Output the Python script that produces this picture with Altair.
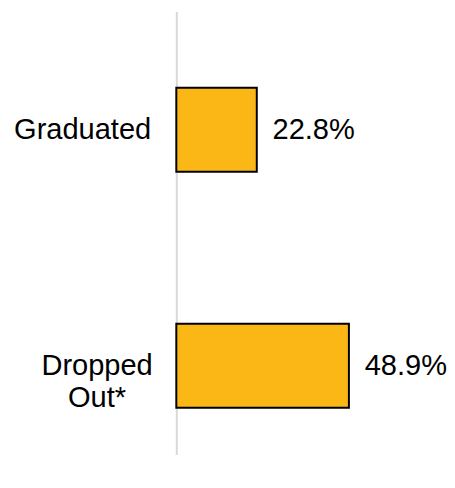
import altair as alt
import pandas as pd

categories = ["Graduated", "Dropped Out*"]
values = [22.8, 48.9]

df = pd.DataFrame({"category": categories, "value": values})

y_enc = alt.Y(
    "category:N",
    sort=None,
    title=None,
    scale=alt.Scale(paddingInner=0.644, paddingOuter=0.26, align=0.62),
    axis=alt.Axis(
        domainColor="#d9d9d9",
        domainWidth=2,
        ticks=False,
        grid=False,
        labelFont="Liberation Sans",
        labelFontSize=29.5,
        labelColor="#000000",
        labelBaseline="middle",
        labelLineHeight=33,
        labelLimit=0,
        labelExpr="datum.value == 'Dropped Out*' ? ['Dropped', 'Out*'] : datum.value",
        labelAlign=alt.condition("datum.value == 'Dropped Out*'", alt.value("center"), alt.value("right")),
        labelPadding=alt.condition("datum.value == 'Dropped Out*'", alt.value(81), alt.value(26)),
    ),
)

x_enc = alt.X("value:Q", scale=alt.Scale(domain=[0, 70]), axis=None)

base = alt.Chart(df).encode(y=y_enc, x=x_enc)

bars = base.mark_bar(color="#FBB715", stroke="#000000", strokeWidth=2)

labels = base.transform_calculate(
    label="format(datum.value, '.1f') + '%'"
).mark_text(
    align="left", baseline="middle", dx=16, font="Liberation Sans", fontSize=29.5, color="#000000"
).encode(text="label:N")

chart = (bars + labels).properties(
    width=251,
    height=450,
    padding={"left": 5, "top": 0, "right": 0, "bottom": 0},
).configure_view(stroke=None)

chart.save("out.html", embed_options={"renderer": "svg", "actions": False})
